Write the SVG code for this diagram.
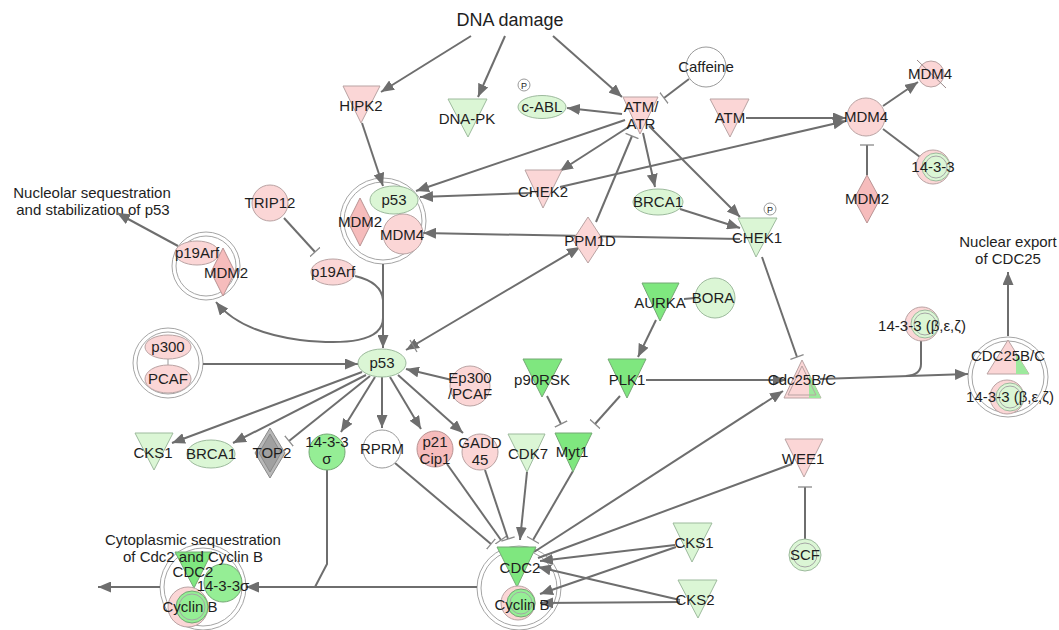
<svg xmlns="http://www.w3.org/2000/svg" width="1059" height="630" viewBox="0 0 1059 630">
<defs>
<marker id="arr" viewBox="0 0 13 11" refX="13" refY="5.5" markerWidth="13" markerHeight="11" markerUnits="userSpaceOnUse" orient="auto-start-reverse"><path d="M0,0 L13,5.5 L0,11 z" fill="#6e6e6e"/></marker>
<marker id="tee" viewBox="0 0 4 14" refX="2" refY="7" markerWidth="4" markerHeight="14" markerUnits="userSpaceOnUse" orient="auto"><path d="M2,0 L2,14" stroke="#8a8a8a" stroke-width="1.3"/></marker>
<style>
.t{font-family:"Liberation Sans",Arial,sans-serif;font-size:15px;fill:#1e1e1e;text-anchor:middle}
.pk{fill:#fbd6d6;stroke:#b9a3a3;stroke-width:1}
.pk2{fill:#f6bcbc;stroke:#b99393;stroke-width:1}
.lg{fill:#dbf6d5;stroke:#9dba9d;stroke-width:1}
.bg{fill:#7fe77f;stroke:#74a874;stroke-width:1}
.mg{fill:#95ee95;stroke:#74a874;stroke-width:1}
.wh{fill:#ffffff;stroke:#9a9a9a;stroke-width:1}
.cx{fill:none;stroke:#a5a5a5;stroke-width:1}
.cn{fill:none;stroke:#a5a5a5;stroke-width:1}
.e{fill:none;stroke:#6e6e6e;stroke-width:2}
.a{marker-end:url(#arr)}
.b{marker-end:url(#tee)}
</style>
</defs>
<rect width="1059" height="630" fill="#ffffff"/>

<g id="labels">
<text class="t" x="510" y="26" style="font-size:18px">DNA damage</text>
<text class="t" x="92" y="198">Nucleolar sequestration</text>
<text class="t" x="93" y="215">and stabilization of p53</text>
<text class="t" x="1008" y="247">Nuclear export</text>
<text class="t" x="1008" y="264">of CDC25</text>
</g>

<g id="complex-frames">
<circle class="cx" cx="383" cy="221" r="43"/><circle class="cn" cx="383" cy="221" r="39"/>
<circle class="cx" cx="206" cy="266" r="34"/><circle class="cn" cx="206" cy="266" r="30"/>
<circle class="cx" cx="168" cy="363" r="35"/><circle class="cn" cx="168" cy="363" r="31"/>
<circle class="cx" cx="1008" cy="377" r="40"/><circle class="cn" cx="1008" cy="377" r="36"/>
<circle class="cx" cx="519" cy="588" r="42"/><circle class="cn" cx="519" cy="588" r="38"/>
<circle class="cx" cx="203" cy="587" r="43"/><circle class="cn" cx="203" cy="587" r="39"/>
</g>

<g id="connectors">
<path class="e a" d="M471,36 L381,92"/>
<path class="e a" d="M505,36 L478,97"/>
<path class="e a" d="M553,36 L622,97"/>
<path class="e a" d="M362,123 L383,186"/>
<path class="e a" d="M622,114 L567,108"/>
<path class="e a" d="M625,120 L416,191"/>
<path class="e a" d="M532,193 L420,197"/>
<path class="e a" d="M560,187 L846,121"/>
<path class="e a" d="M630,126 L560,171"/>
<path class="e a" d="M643,133 L655,187"/>
<path class="e a" d="M649,126 L740,217"/>
<path class="e b" d="M689,79 L664,98"/>
<path class="e b" d="M596,222 L632,136"/>
<path class="e a" d="M680,209 L740,228"/>
<path class="e a" d="M740,239 L423,233"/>
<path class="e b" d="M762,257 L797,357"/>
<path class="e b" d="M284,218 L315,252"/>
<path class="e a" d="M383,264 L383,348"/>
<path class="e" d="M355,276 C372,280 382,288 383,300"/>
<path class="e a" d="M383,318 C383,342 345,345 300,340 C262,335 232,322 216,302"/>
<path class="e a" d="M178,246 L117,213"/>
<path class="e a" d="M203,364 L358,364"/>
<path class="e a" d="M406,350 L580,247" style="marker-start:url(#arr)"/>
<path d="M410,340 L417,352" stroke="#8a8a8a" stroke-width="1.3"/>
<path class="e a" d="M452,380 L406,369"/>
<path class="e" d="M695,298 L684,299"/>
<path class="e a" d="M656,320 L638,357"/>
<path class="e a" d="M646,380 L786,380"/>
<path class="e a" d="M820,379 L968,374"/>
<path class="e" d="M921,341 L921,364 Q921,375 906,376"/>
<path class="e a" d="M1008,336 L1008,272"/>
<path class="e a" d="M362,372 L172,443"/>
<path class="e a" d="M366,375 L233,443"/>
<path class="e b" d="M370,376 L289,441"/>
<path class="e a" d="M375,377 L341,432"/>
<path class="e a" d="M382,377 L382,428"/>
<path class="e a" d="M390,377 L421,429"/>
<path class="e a" d="M398,375 L463,433"/>
<path class="e b" d="M547,396 L561,424"/>
<path class="e b" d="M620,396 L595,424"/>
<path class="e b" d="M395,463 L491,544"/>
<path class="e b" d="M447,464 L501,540"/>
<path class="e b" d="M485,470 L508,539"/>
<path class="e a" d="M527,472 L520,540"/>
<path class="e b" d="M573,471 L533,540"/>
<path class="e a" d="M534,552 L783,391"/>
<path class="e" d="M792,464 L538,558"/>
<path class="e a" d="M675,545 L540,561"/>
<path class="e a" d="M676,547 L540,594"/>
<path class="e a" d="M680,600 L538,567"/>
<path class="e a" d="M680,602 L540,603"/>
<path class="e b" d="M805,539 L805,487"/>
<path class="e a" d="M477,587 L246,587"/>
<path class="e" d="M327,470 L327,564 L315,587"/>
<path class="e a" d="M160,587 L98,587"/>
<path class="e b" d="M867,175 L867,145"/>
<path class="e a" d="M746,118 L846,118"/>
<path class="e a" d="M883,106 L918,82"/>
<path class="e" d="M883,129 L920,157"/>
</g>

<g id="HIPK2"><polygon class="pk" points="343,86 380,86 361,123"/><text class="t" x="361" y="111">HIPK2</text></g>
<g id="DNA-PK"><polygon class="lg" points="448,99 487,99 468,137"/><text class="t" x="467" y="124">DNA-PK</text></g>
<g id="c-ABL"><ellipse class="lg" cx="542" cy="107" rx="24" ry="11.5"/><text class="t" x="542" y="112">c-ABL</text>
<circle cx="524" cy="85" r="6" class="wh"/><text class="t" x="524" y="88.5" style="font-size:9px">P</text></g>
<g id="ATM-ATR"><polygon class="pk" points="623,97 658,97 640,134"/><text class="t" x="641" y="112">ATM/</text><text class="t" x="641" y="129">ATR</text></g>
<g id="Caffeine"><circle class="wh" cx="706" cy="67" r="20"/><text class="t" x="706" y="72">Caffeine</text></g>
<g id="ATM"><polygon class="pk" points="710,99 749,99 730,137"/><text class="t" x="730" y="123">ATM</text></g>
<g id="MDM4-r"><circle class="pk" cx="866" cy="117" r="19"/><text class="t" x="866" y="122">MDM4</text></g>
<g id="MDM4-s"><circle class="pk" cx="931" cy="74" r="13"/><path d="M917,60 L946,88" stroke="#9a8a8a" stroke-width="1"/><text class="t" x="930" y="79">MDM4</text></g>
<g id="n14-3-3-r"><circle class="pk" cx="933" cy="167" r="17"/><circle class="lg" cx="936" cy="167" r="14"/><circle class="cn" cx="936" cy="167" r="11"/><text class="t" x="933" y="172">14-3-3</text></g>
<g id="MDM2-r"><polygon class="pk2" points="867,175 880,199 867,223 854,199"/><text class="t" x="867" y="204">MDM2</text></g>

<g id="p53-complex">
<ellipse class="lg" cx="394" cy="200" rx="24" ry="14"/><text class="t" x="394" y="205">p53</text>
<polygon class="pk2" points="360,198 372,222 360,246 348,222"/>
<circle class="pk" cx="403" cy="234" r="20"/>
<text class="t" x="360" y="227">MDM2</text><text class="t" x="402" y="240">MDM4</text></g>

<g id="CHEK2"><polygon class="pk" points="525,170 562,170 543,208"/><text class="t" x="543" y="197">CHEK2</text></g>
<g id="BRCA1-u"><ellipse class="lg" cx="658" cy="202" rx="25" ry="13"/><text class="t" x="658" y="207">BRCA1</text></g>
<g id="CHEK1"><polygon class="lg" points="738,218 777,218 756,257"/><text class="t" x="757" y="243">CHEK1</text>
<circle cx="770" cy="209" r="6" class="wh"/><text class="t" x="770" y="212.5" style="font-size:9px">P</text></g>
<g id="PPM1D"><polygon class="pk" points="588,217 603,240 588,263 573,240"/><text class="t" x="590" y="246">PPM1D</text></g>
<g id="TRIP12"><circle class="pk" cx="270" cy="203" r="18"/><text class="t" x="270" y="208">TRIP12</text></g>
<g id="p19Arf"><ellipse class="pk" cx="333" cy="272" rx="22" ry="13"/><text class="t" x="333" y="277">p19Arf</text></g>

<g id="p19Arf-MDM2">
<ellipse class="pk" cx="197" cy="253" rx="22" ry="12"/>
<polygon class="pk2" points="223,248 235,272 223,296 211,272"/>
<text class="t" x="197" y="258">p19Arf</text><text class="t" x="226" y="278">MDM2</text></g>

<g id="p300-PCAF">
<path d="M168,358 L168,366" stroke="#999" stroke-width="1"/>
<ellipse class="pk" cx="168" cy="347" rx="23" ry="12"/><ellipse class="pk" cx="168" cy="379" rx="23" ry="14"/>
<text class="t" x="168" y="352">p300</text><text class="t" x="168" y="384">PCAF</text></g>

<g id="p53"><ellipse class="lg" cx="382" cy="363" rx="24" ry="14"/><text class="t" x="382" y="368">p53</text></g>
<g id="Ep300"><circle class="pk" cx="470" cy="386" r="20"/><text class="t" x="470" y="383">Ep300</text><text class="t" x="470" y="399">/PCAF</text></g>
<g id="AURKA"><polygon class="bg" points="642,283 679,283 660,321"/><text class="t" x="660" y="308">AURKA</text></g>
<g id="BORA"><circle class="lg" cx="715" cy="298" r="20"/><text class="t" x="713" y="303">BORA</text></g>
<g id="p90RSK"><polygon class="bg" points="523,359 562,359 542,397"/><text class="t" x="542" y="385">p90RSK</text></g>
<g id="PLK1"><polygon class="bg" points="608,359 646,359 627,398"/><text class="t" x="627" y="385">PLK1</text></g>
<g id="Cdc25BC"><polygon class="pk" points="802,360 821,398 784,398"/><polygon fill="#9de99d" points="809,374 821,398 809,398"/><polygon fill="none" stroke="#b9a3a3" points="802,366 816,395 788,395"/><text class="t" x="802" y="385">Cdc25B/C</text></g>
<g id="n14-3-3-b"><circle class="pk" cx="922" cy="324" r="17"/><circle class="lg" cx="925" cy="324" r="14"/><circle class="cn" cx="925" cy="324" r="11"/><text class="t" x="922" y="331">14-3-3 (β,ε,ζ)</text></g>

<g id="CDC25-complex">
<polygon class="pk" points="1008,340 1029,374 987,374"/><polygon fill="#9de99d" points="1016,353 1029,374 1016,374"/>
<circle class="pk" cx="1007" cy="397" r="17"/><circle class="lg" cx="1010" cy="397" r="14"/><circle class="cn" cx="1010" cy="397" r="11"/>
<text class="t" x="1008" y="361">CDC25B/C</text><text class="t" x="1010" y="402">14-3-3 (β,ε,ζ)</text></g>

<g id="CKS1-l"><polygon class="lg" points="135,433 173,433 154,470"/><text class="t" x="153" y="458">CKS1</text></g>
<g id="BRCA1-l"><ellipse class="lg" cx="211" cy="454" rx="24" ry="14"/><text class="t" x="211" y="459">BRCA1</text></g>
<g id="TOP2"><polygon fill="#b8b8b8" stroke="#8a8a8a" points="270,428 285,453 270,478 255,453"/><polygon fill="#a0a0a0" stroke="#8a8a8a" points="270,434 281,453 270,472 259,453"/><text class="t" x="272" y="458">TOP2</text></g>
<g id="n14-3-3s"><circle class="mg" cx="327" cy="452" r="18"/><text class="t" x="327" y="447">14-3-3</text><text class="t" x="327" y="464">σ</text></g>
<g id="RPRM"><circle class="wh" cx="382" cy="449" r="19"/><text class="t" x="382" y="454">RPRM</text></g>
<g id="p21"><circle class="pk2" cx="435" cy="449" r="18"/><text class="t" x="435" y="447">p21</text><text class="t" x="435" y="464">Cip1</text></g>
<g id="GADD45"><circle class="pk" cx="480" cy="452" r="18"/><text class="t" x="480" y="448">GADD</text><text class="t" x="480" y="465">45</text></g>
<g id="CDK7"><polygon class="lg" points="508,434 545,434 527,472"/><text class="t" x="528" y="459">CDK7</text></g>
<g id="Myt1"><polygon class="bg" points="555,433 592,433 573,472"/><text class="t" x="572" y="457">Myt1</text></g>

<g id="CDC2-complex">
<polygon class="bg" points="497,547 536,547 517,587"/>
<circle class="pk" cx="518" cy="603" r="17"/><circle class="mg" cx="521" cy="603" r="14"/><circle class="cn" cx="521" cy="603" r="11"/>
<text class="t" x="520" y="573">CDC2</text><text class="t" x="522" y="610">Cyclin B</text></g>

<g id="CKS1-r"><polygon class="lg" points="673,523 712,523 692,562"/><text class="t" x="694" y="548">CKS1</text></g>
<g id="CKS2"><polygon class="lg" points="678,580 717,580 698,618"/><text class="t" x="695" y="605">CKS2</text></g>
<g id="WEE1"><polygon class="pk" points="785,439 823,439 804,477"/><text class="t" x="803" y="464">WEE1</text></g>
<g id="SCF"><circle class="lg" cx="805" cy="555" r="16"/><circle class="cn" cx="805" cy="555" r="12"/><text class="t" x="805" y="560">SCF</text></g>

<g id="cyto-complex">
<polygon class="bg" points="175,552 212,552 194,588"/>
<circle class="mg" cx="223" cy="583" r="19"/>
<circle class="pk" cx="188" cy="607" r="20"/><circle class="mg" cx="192" cy="607" r="16"/><circle class="cn" cx="192" cy="607" r="13"/>
<text class="t" x="193" y="577">CDC2</text><text class="t" x="223" y="591">14-3-3σ</text><text class="t" x="190" y="612">Cyclin B</text></g>
<g id="cyto-label"><text class="t" x="193" y="545">Cytoplasmic sequestration</text><text class="t" x="193" y="562">of Cdc2 and Cyclin B</text></g>
</svg>
